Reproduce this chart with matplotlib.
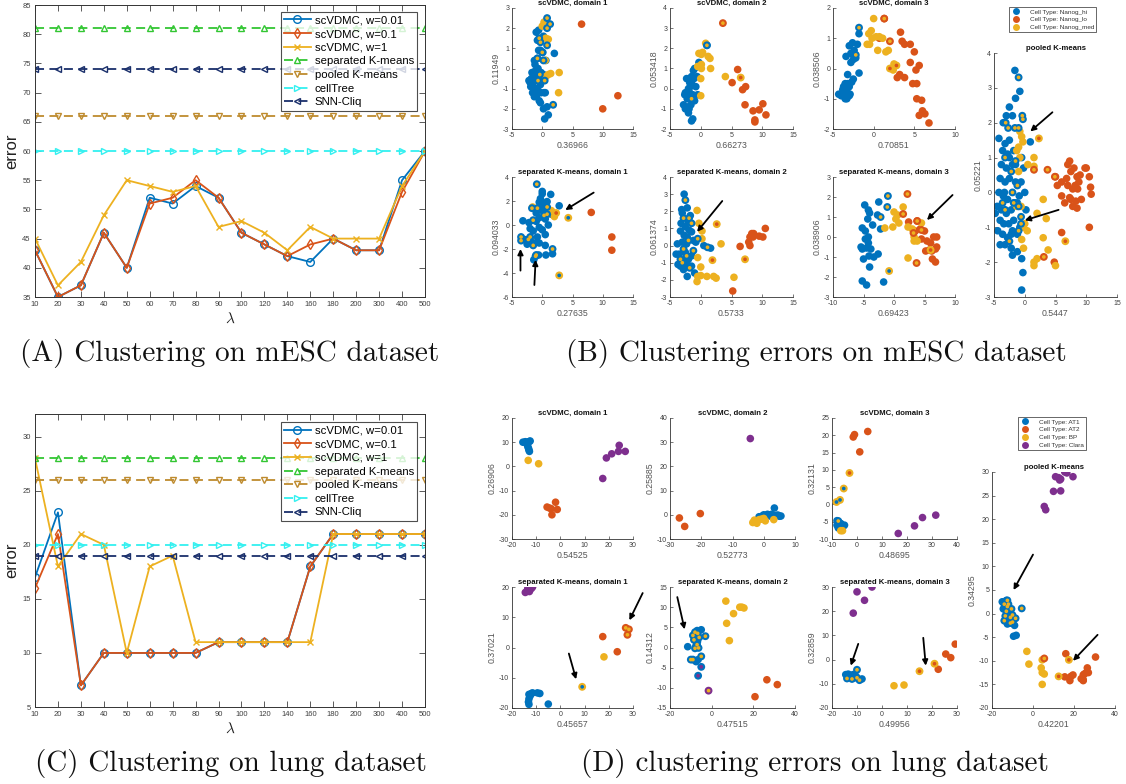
import numpy as np
import matplotlib
matplotlib.use("Agg")
import matplotlib.pyplot as plt
from matplotlib.lines import Line2D

plt.rcParams['font.family'] = ['Liberation Sans', 'DejaVu Sans']
plt.rcParams['axes.unicode_minus'] = False
plt.rcParams['mathtext.fontset'] = 'cm'

W, H = 1126, 784

# ---------------- line-chart data ----------------
lambdas = ['10', '20', '30', '40', '50', '60', '70', '80', '90', '100', '120', '140',
           '160', '180', '200', '300', '400', '500']

a_w001 = [43, 35, 37, 46, 40, 52, 51, 54, 52, 46, 44, 42, 41, 45, 43, 43, 55, 60]
a_w01 = [43, 35, 37, 46, 40, 51, 52, 55, 52, 46, 44, 42, 44, 45, 43, 43, 53, 60]
a_w1 = [45, 37, 41, 49, 55, 54, 53, 54, 47, 48, 46, 43, 47, 45, 45, 45, 54, 60]
a_sep, a_pool, a_tree, a_snn = 81, 66, 60, 74

c_w001 = [17, 23, 7, 10, 10, 10, 10, 10, 11, 11, 11, 11, 18, 21, 21, 21, 21, 21]
c_w01 = [16, 21, 7, 10, 10, 10, 10, 10, 11, 11, 11, 11, 18, 21, 21, 21, 21, 21]
c_w1 = [28, 18, 21, 20, 10, 18, 19, 11, 11, 11, 11, 11, 11, 21, 21, 21, 21, 21]
c_sep, c_pool, c_tree, c_snn = 28, 26, 20, 19

series_labels = ['scVDMC, w=0.01', 'scVDMC, w=0.1', 'scVDMC, w=1',
                 'separated K-means', 'pooled K-means', 'cellTree', 'SNN-Cliq']

# ---------------- scatter data: mESC (B) ----------------
b_types = ['Cell Type: Nanog_hi', 'Cell Type: Nanog_lo', 'Cell Type: Nanog_med']

b1_hi = [(-2, -0.7), (-1.8, -0.5), (-1.5, -0.9), (-1.2, -0.3), (-1, -0.6), (-0.8, -1.0), (-0.5, -0.4),
         (-0.3, -0.8), (0, -0.5), (-1.6, -1.2), (-1.3, -1.4), (-0.9, -1.3), (-0.5, -1.6), (-0.2, -1.2),
         (0.3, -1.2), (-1.9, -0.9), (-1.1, -0.1), (-0.7, 0), (-0.2, -0.2), (0.2, -0.3), (-1.3, 0.4),
         (-0.8, 0.5), (-0.3, 0.9), (0.1, 0.8), (-1, 1.8), (-0.6, 1.9), (-0.3, 1.4), (0.2, 1.6),
         (0.4, 2.3), (-0.8, 1.4), (0.6, 0.4), (2, 0.75), (-1.2, 0.2), (-0.3, -1.7), (0.2, -2.0),
         (0.4, -2.5), (1.0, -2.3), (0.8, -1.9), (0.5, -1.2), (-2.2, -0.6), (-1.7, -0.2), (-0.6, 0.9)]
b1_lo = [(6.5, 2.2), (12.5, -1.35), (10, -2)]
b1_med = [(0, 2.1), (0.3, 2.3), (0.6, 1.5), (1.0, 1.45), (2.8, -0.2), (2.7, -1.2), (1.4, -0.25),
          (0.6, -0.4), (1, -0.3), (0.5, 0.4)]
b1_mix = [(0.8, 2.5, 0, 2), (1.3, 2.2, 0, 2), (0.8, 2.0, 0, 2), (-0.5, 1.5, 0, 2), (-0.3, 1.3, 0, 2),
          (0, 0.8, 0, 2), (0.8, 1.15, 0, 2), (1.8, -1.8, 0, 2), (-0.7, -0.6, 0, 2), (-0.4, -0.3, 0, 2),
          (0.4, -0.6, 0, 2), (-0.8, 0.5, 0, 2), (0.2, 0.4, 0, 2)]

b2_hi = [(-2.5, -1.0), (-2.8, -0.8), (-2.2, -0.5), (-2.5, -0.2), (-2, 0), (-1.8, 0.3), (-1.5, 0.6),
         (-1.2, 0.9), (-1, 1.0), (-2.3, 0.5), (-2, -1.2), (-1.6, -0.8), (-1.3, -0.3), (-1, -0.6),
         (-0.8, 0.1), (-0.5, -0.3), (-1.5, -1.6), (-1.3, -1.5), (-2.6, -0.3), (-1.8, -0.2), (-1.1, 0.5),
         (-0.6, 0.6), (-0.3, 1.3), (1, 2.15), (-2.0, -0.9), (-1.7, 0.1), (-1.9, -1.0), (-1.4, 0.2)]
b2_lo = [(6, 0.95), (5.1, 0.3), (6.8, -0.05), (7.3, 0.1), (7.2, -0.8), (8.5, -1.1), (9.5, -1.05),
         (10.1, -0.75), (10.6, -1.3), (8.8, -1.55), (8.8, -1.65)]
b2_med = [(0.8, 2.25), (-0.3, 1.75), (0.1, 1.7), (0.3, 1.8), (1.2, 1.6), (1.5, 1.5), (1.6, 1.0),
          (0.1, 1.0), (0.1, 1.2), (-0.5, 1.1), (0, 0.5), (0, -0.35), (4, 0.6)]
b2_mix = [(3.6, 3.25, 1, 2), (6.5, 0.55, 2, 1), (-1.5, -0.5, 0, 2), (1, 2.15, 0, 2)]

b3_hi = [(-1.8, 1.15), (-2.6, 0.85), (-3.0, 0.75), (-2.4, 0.6), (-2.8, 0.5), (-3.4, 0.4), (-2.5, 0.3),
         (-2.8, 0.2), (-2, 0.8), (-2.2, 0.35), (-1.8, -0.15), (-3.2, -0.2), (-2.5, -0.35), (-3.5, -0.5),
         (-3.8, -0.7), (-3.3, -0.7), (-4, -0.9), (-3.5, -1), (-3.0, -0.9), (-4.3, -0.85), (-3.2, -0.5),
         (-3.7, -0.6), (-3.0, -0.6), (-2.7, -0.45), (-3.6, -0.8), (-2.9, -0.85), (-3.3, -1.0)]
b3_lo = [(1.3, 1.65), (0.7, 1.0), (3.3, 1.2), (3.5, 0.9), (3.8, 0.8), (4.5, 0.8), (3.2, -0.2),
         (2.9, -0.3), (3.8, -0.3), (4.5, 0.2), (5.0, 0.55), (5.2, -0.05), (4.8, -0.5), (5.3, -0.5),
         (5.3, -1.0), (5.9, -1.05), (6.0, -1.4), (6.3, -1.5), (5.6, -1.55), (6.8, -1.8), (5.6, 0.1)]
b3_med = [(0, 1.65), (-0.3, 1.25), (-0.6, 1.15), (-0.5, 0.8), (-0.8, 0.8), (-0.2, 1.0), (0.3, 1.05),
          (0.7, 1.05), (1.1, 1.0), (0.5, 0.6), (1.5, 0.55), (1.8, 0.6), (2.5, 0.15), (2.4, -0.05)]
b3_mix = [(-1.8, 1.35, 0, 2), (-2.2, 0.45, 0, 2), (2.0, 0.9, 1, 2), (2.0, 0.0, 2, 1), (1.3, 1.65, 1, 2),
          (2.8, 0.1, 2, 1)]

b4_hi = [(0, 2.8), (0, 2.6), (1.4, 2.55), (0.8, 1.95), (-0.5, 1.9), (0.2, 1.5), (-1, 1.0), (0, 1.2),
         (2.8, 1.6), (1, 1.3), (1.5, 0.9), (-0.5, 0.6), (0.5, 0.5), (-3.2, 0.35), (-2, -0.3), (-1.5, -0.5),
         (-0.5, -0.2), (0, -0.4), (0.5, -0.8), (-0.8, -1.0), (-3.0, -1.2), (-2.0, -1.2), (-2.5, -1.6),
         (-1.2, -1.5), (0.5, -1.7), (-0.5, -1.5), (-1.4, -2.9), (0.6, -2.5), (-0.6, -2.5), (1.7, -2.4),
         (1.0, 0.0), (-1.0, 0.3), (-2.2, 0.2), (0.3, 1.8), (-0.3, 2.2)]
b4_lo = [(8.1, 1.05), (11.5, -1.0), (11.5, -2.1)]
b4_med = [(2.0, 0.7), (-1.6, 1.5), (1.5, 1.2)]
b4_mix = [(-0.9, 3.4, 0, 2), (-1.7, 1.4, 0, 2), (-0.8, 1.4, 0, 2), (0.8, 1.5, 0, 2), (-1.5, 0.4, 0, 2),
          (-3.5, -1.0, 0, 2), (-3.5, -1.3, 0, 2), (-2.3, -1.2, 0, 2), (-2.0, -1.0, 0, 2),
          (-1.5, -1.7, 0, 2), (-1.0, -2.5, 0, 2), (1.7, -2.0, 0, 2), (0.3, 0.8, 0, 2), (0.8, 0.9, 0, 2),
          (4.3, 0.6, 2, 0), (2.8, -4.2, 2, 0), (-1.1, -2.6, 0, 2), (2.3, 1.0, 2, 1)]
b4_arrows = [(8.5, 2.7, 3.8, 1.25), (-3.6, -3.8, -3.6, -2.0), (-1.3, -5.0, -1.1, -2.9)]

b5_hi = [(-2.7, 3.0), (-3.1, 2.1), (-3, 1.9), (-2.2, 2.2), (-1.7, 1.75), (-3.2, 1.3), (-2, 1.4),
         (-2.5, 1.1), (-3.3, 0.85), (-1.5, 0.8), (-2.7, 0.6), (-2.2, 0.5), (-3.8, 0.1), (-3.0, 0.2),
         (-2.3, 0.1), (-1.2, 0.3), (-0.8, 0.2), (0.5, 0.0), (1.6, -0.15), (-3.5, -0.5), (-2.5, -0.4),
         (-2, -0.8), (-1.5, -0.6), (-3.3, -1.2), (-2.8, -1.4), (-2.2, -1.1), (-1.5, -1.2), (-1, -1.6),
         (-2.2, -1.8), (-3.7, -1.1), (-2.6, -0.95), (-4, -0.5), (-1.9, 0.9)]
b5_lo = [(10.5, 1.0), (8.3, 0.7), (8, 0.5), (7.8, 0.2), (8.5, 0.5), (9.5, 0.55), (10.1, 0.5),
         (8.0, 0.0), (6.4, -0.05), (8.6, 0.7), (5.2, -2.65)]
b5_med = [(-0.6, 2.05), (-0.3, 1.3), (0.2, 0.85), (0.2, 0.4), (-0.5, -0.7), (0, -1.25), (0, -1.75),
          (-0.5, -1.8), (-0.6, -2.1), (1.0, -1.8), (2.1, -1.8), (2.5, -1.9), (5.4, -1.85), (3.3, 0.1)]
b5_mix = [(-2.5, 2.65, 0, 2), (-1.9, 1.6, 0, 2), (-2.8, 1.6, 0, 2), (-1.5, 1.3, 0, 2), (-2.0, 0.3, 0, 2),
          (-2.8, -0.2, 0, 2), (-2.3, -0.6, 0, 2), (-1.8, -1.3, 0, 2), (-3.0, -1.0, 0, 2),
          (-3.3, -0.8, 0, 2), (-0.5, 0.4, 0, 2), (-1.2, -0.3, 0, 2), (1.1, -0.1, 0, 2),
          (2.6, 1.25, 2, 1), (1.9, -0.85, 2, 1), (7.2, -0.8, 2, 1)]
b5_arrows = [(3.5, 2.6, -0.6, 0.8)]

b6_hi = [(-4.8, 1.6), (-4.2, 1.35), (-4, 1.2), (-2.5, 1.75), (-4.3, 0.9), (-2.7, 1.1), (-3.5, 0.6),
         (-5.2, 0.45), (-4.7, 0.3), (-4.2, 0.0), (-4.7, -0.1), (-5.4, -0.5), (-5.2, -0.6), (-4.5, -0.55),
         (-3.8, -0.6), (-4.2, -0.3), (-5, -1.1), (-4.1, -0.95), (-3.3, -1.0), (-2.6, -0.85), (-4, -1.5),
         (-5.2, -2.2), (-4.5, -2.4), (-1.7, -2.25), (-2.2, 0.4)]
b6_lo = [(2.4, 0.75), (3.8, 0.8), (3.5, 0.3), (4.3, 0.4), (5, 0.3), (5.4, -0.2), (6, -0.3), (6.5, 0.0),
         (7, 0.0), (6.8, -0.6), (6.2, -0.7), (5.8, -0.65), (6.3, -1.1), (6.8, -1.25), (5.2, -0.7),
         (4.5, -0.1), (7.0, -0.5)]
b6_med = [(0, 1.25), (0.6, 1.1), (1.5, 1.5), (-0.2, 0.5), (-1.5, 0.45), (0.3, 0.9), (0.8, 0.7),
          (2.3, 0.5), (3, 0.4), (3.3, 0), (3.8, -0.2), (3.3, -0.2), (2.3, -1.05), (4.5, 0.7)]
b6_mix = [(-1.0, 2.05, 0, 2), (-1.1, 1.5, 0, 2), (-2.2, 1.0, 0, 2), (-0.8, -1.7, 2, 0),
          (2.2, 2.15, 1, 2), (1.5, 1.15, 1, 2), (3.8, 0.8, 1, 2), (4.5, 0.35, 1, 2), (3.7, -1.3, 1, 2),
          (6.0, -0.65, 2, 1), (3.2, 0.2, 1, 2)]
b6_arrows = [(9.6, 2.1, 5.4, 0.85)]

b7_hi = [(-1.6, 3.5), (-0.8, 2.9), (-1.5, 2.7), (-2.5, 2.45), (-3.0, 2.2), (-2.0, 2.2), (-3.5, 2.0),
         (-4.2, 1.55), (-3.2, 1.4), (-2.5, 1.5), (-3.6, 1.2), (-2.8, 1.1), (-1.8, 1.2), (-0.5, 1.0),
         (0.9, 1.45), (-3.8, 0.8), (-3.0, 0.7), (-1.5, 0.8), (-0.2, 0.7), (-4.0, 0.4), (-3.2, 0.3),
         (-2.5, 0.4), (-1.5, 0.3), (0, 0.0), (-4.2, 0.0), (-3.5, -0.1), (-2.8, -0.2), (-1.2, -0.3),
         (-4.5, -0.4), (-3.8, -0.5), (-3.0, -0.6), (-2.2, -0.5), (0.2, -0.5), (-4.8, -0.6), (-4.0, -0.8),
         (-3.4, -0.9), (-2.6, -0.9), (-1.8, -0.8), (-4.4, -1.1), (-3.6, -1.2), (-2.8, -1.3), (-2, -1.1),
         (-1.2, -1.2), (-4.0, -1.5), (-3.2, -1.5), (-2.2, -1.6), (-1.2, -1.7), (-2.0, -1.8),
         (-0.5, -1.9), (-0.3, -2.3), (-0.5, -2.8), (-2.5, 1.0), (-0.8, -1.0), (-0.6, 0.3), (-5.0, -0.6),
         (-3.3, 0.0), (-2.2, -1.2), (-1.6, -0.3), (-0.9, -0.1), (-2.0, 0.8)]
b7_lo = [(5, 0.45), (6, 0.3), (5.3, 0.2), (6.5, -0.3), (7, 0.8), (7.3, 0.9), (7.5, 0.6), (8, 0.7),
         (8.5, 0.45), (8.2, 0.2), (8.8, 0.3), (9, 0.5), (9.8, 0.7), (10, 0.7), (10.5, 0.45), (10.7, 0.15),
         (10.8, -0.05), (9.2, -0.2), (7.5, -0.2), (7.8, -0.4), (8.3, -0.25), (8.6, 0.1), (7.0, 0.2),
         (6.8, 0.4), (7.3, -0.15), (6.0, -0.1), (6, -1.15), (4.8, -2), (10.5, -1), (8.5, -0.45), (7.8, 0.1)]
b7_med = [(-0.8, 1.75), (-0.5, 1.6), (-0.3, 1.45), (-1.0, 1.3), (-1.3, 1.2), (-0.8, 1.0), (-1.0, 0.6),
          (0.5, 0.8), (1.5, 1.0), (1.5, 0.75), (-0.6, -0.4), (-1.3, -0.4), (0, -0.9), (-0.3, -1.0),
          (0.4, -1.1), (2.0, -0.6), (3.0, -0.2), (3.5, -0.75), (3, -1.3), (3.8, -1.65), (1.5, -2.0),
          (1.5, -2.1), (2.0, -1.9), (5, -2.1), (-0.5, -1.35), (-0.2, -1.6)]
b7_mix = [(-1.0, 3.3, 0, 2), (-3.1, 2.0, 0, 2), (-0.4, 2.2, 0, 2), (-0.3, 2.1, 0, 2), (-1.6, 1.85, 0, 2),
          (-1.0, 1.85, 0, 2), (-2.7, 1.85, 0, 2), (-3.2, 1.0, 0, 2), (-2.2, 0.6, 0, 2), (-2.0, 0.0, 0, 2),
          (-1.0, -0.4, 0, 2), (-0.6, -0.7, 0, 2), (-2.5, -1.4, 0, 2), (-1.0, -1.1, 0, 2),
          (-1.8, -0.3, 0, 2), (-3.2, -0.5, 0, 2), (-1.5, 0.9, 0, 2), (-0.6, -0.9, 0, 2),
          (-3.6, -0.3, 0, 2), (-1.2, 0.2, 0, 2), (2.3, 1.55, 2, 1), (1.5, 0.65, 1, 2),
          (6.6, -1.4, 2, 1), (3.1, -1.85, 1, 2), (4.9, 0.45, 1, 2), (3.7, 0.65, 1, 2)]
b7_arrows = [(4.5, 2.3, 0.9, 1.75), (5.5, -0.5, 0.0, -0.8)]

# ---------------- scatter data: lung (D) ----------------
d_types = ['Cell Type: AT1', 'Cell Type: AT2', 'Cell Type: BP', 'Cell Type: Clara']

d1_at1 = [(-15.5, 10), (-14.5, 10.2), (-13.5, 10), (-12.5, 10.5), (-13.8, 9.2), (-13.5, 8.3),
          (-13.2, 7.5), (-13, 6.8), (-12.8, 6.2), (-14, 9.8), (-12.8, 10.3)]
d1_at2 = [(-5.5, -16.8), (-4.5, -17.2), (-3.8, -17.5), (-2, -14.8), (-1.3, -17.8), (-3.5, -20)]
d1_bp = [(-13.3, 2.5), (-9, 1.1)]
d1_clara = [(17.5, -5), (19, 3.5), (21.2, 5.2), (24, 6.2), (24.3, 8.7), (26.8, 6.2)]

d2_at1 = [(-1.5, -0.8), (0, 0), (1, -0.3), (1.5, 0), (2, -0.5), (3, -0.2), (3.4, 2.8), (4, -0.3),
          (4.5, -0.1), (5, -0.6), (5.5, -0.5), (-0.5, -0.5), (2.5, 0.2), (1.2, 0.2)]
d2_at2 = [(-27, -1.3), (-25.3, -4.8), (-20.3, 0.5)]
d2_bp = [(-3.5, -3.2), (-2.8, -2.8), (-2.2, -3.5), (-1.5, -2.0), (-0.8, -1.8), (0.5, -2.5),
         (3.2, -2.0), (-3, -2.2), (0, -1.5)]
d2_clara = [(-4.3, 31.5)]

d3_at1 = [(-8, -4.7), (-7.5, -5), (-8, -6), (-7, -6.3), (-6.5, -5.5), (-5, -6), (-6, -6.5),
          (-7.5, -6.8), (-6, -7.2), (-7, -5.8), (-5.5, -6.3), (-6.2, -5.8)]
d3_at2 = [(-1.5, 19.5), (-1, 20.2), (4.3, 21.1), (1.1, 15.2)]
d3_bp = [(-6.5, -7.6), (-5.8, -7.6)]
d3_clara = [(16.5, -8.4), (23, -6.2), (26.2, -3.8), (31.5, -3.1)]
d3_mix = [(-3, 9.1, 2, 1), (-5.3, 4.6, 2, 0), (-8.2, 0.7, 2, 0), (-6.8, 1.3, 2, 0), (-7.5, -4.8, 0, 2)]

d4_at1 = [(-13, -15.5), (-12, -15.2), (-11.5, -15.0), (-9.5, -15), (-8.5, -15.2), (-13, -17),
          (-13.2, -18), (-13, -18.8), (-5, -18.7), (-12.5, -16)]
d4_at2 = [(17.5, 3.6), (23.5, -1.4)]
d4_bp = [(18, -3.1)]
d4_clara = [(-14.5, 18.2), (-13.5, 18.8), (-13, 19.2), (-12, 19.5), (-11.5, 20), (-12.8, 18.5),
            (-13.5, 19.5)]
d4_mix = [(9, -13, 2, 0), (27, 6.5, 1, 2), (28.3, 6.0, 1, 2), (27.7, 4.2, 1, 2)]
d4_arrows = [(3.5, -2, 6.5, -10.5), (34, 18, 28.5, 9)]

d5_at1 = [(-11.5, 0.2), (-7, 4.2), (-5, 4.4), (-7.5, 0.5), (-6.8, 1.5), (-6.5, -3.0), (-7.5, -3.5)]
d5_at2 = [(26.5, -8), (31.5, -9.2), (20.8, -12.2)]
d5_bp = [(6.8, 11.5), (7.2, 6), (8.5, 1.7), (10.5, 8.4), (13.5, 10), (14.5, 10), (15.5, 9.8)]
d5_clara = []
d5_mix = [(-9, 3, 0, 2), (-8, 3.8, 0, 2), (-6.7, 3.5, 0, 2), (-6, 2.5, 0, 2), (-3, 2.8, 0, 2),
          (-8, -0.2, 0, 2), (-6.3, -0.1, 0, 2), (-7, 0.7, 0, 2), (-8.5, 1.9, 0, 2), (-9, -3, 0, 2),
          (-5, -2.2, 0, 2), (-10, -3.0, 0, 2), (-5, -4.8, 0, 3), (-6.5, -7, 0, 3), (-1.5, -10.7, 3, 2)]
d5_arrows = [(-16.5, 12.5, -13, 4.5)]

d6_at1 = [(-14.5, -6.2), (-13.5, -6), (-12.5, -6.5), (-11.5, -6.2), (-10.5, -6.8), (-8, -8),
          (-11, -7.5), (-13, -7.2)]
d6_at2 = [(22.5, -4), (25.5, 2.3), (27.5, 0.8), (29.3, 6.4)]
d6_bp = [(4.8, -10.8), (8.8, -10.5)]
d6_clara = [(-10, 28), (-4, 30), (-7, 24.5), (-11.5, 19.2)]
d6_mix = [(15, -4.8, 2, 1), (21, -1.7, 2, 1), (-14, -7.8, 0, 2), (-12, -8, 0, 2), (-10, -7.5, 0, 2),
          (-9, -8.5, 0, 2), (-10, -4.2, 0, 2)]
d6_arrows = [(-9.5, 6.5, -12.5, -2.5), (16.5, 9, 17.5, -2.5)]

d7_at1 = [(-15, 2.5), (-13, 2.8), (-14.5, 1), (-11.5, 0.2), (-12, -1.2), (-12.5, -2.2), (-9, -2.5),
          (-9.5, -4.8), (-8.2, -4.6)]
d7_at2 = [(16, -8.5), (15.5, -13.4), (18, -14.2), (18.5, -13.3), (19.5, -13), (23.5, -13.8),
          (24.5, -14), (24.5, -13), (25, -12.8), (26, -12.5), (26.5, -11.5), (27, -12.5),
          (30.5, -9.2), (24.5, -14.2)]
d7_bp = [(-3, -8), (-2, -10.7), (4, -11.5), (4.5, -12.5), (5.5, -12.8), (4.5, -15), (4.5, -9.8)]
d7_clara = [(10, 25.9), (11, 29), (12.5, 28.8), (13.5, 28.5), (13.5, 26), (15.5, 30), (16.5, 29.8),
            (19.5, 29), (5.5, 22.7), (6.2, 22), (13, 28.3)]
d7_mix = [(-14, 2, 0, 2), (-12.5, 1.5, 0, 2), (-13, 0.5, 0, 2), (-10, -0.3, 0, 2), (-11, -0.8, 0, 2),
          (-13.5, -0.5, 0, 2), (-14, -1.5, 0, 2), (-10, -1.8, 0, 2), (-8.5, -1, 0, 2),
          (-5.5, 1.1, 0, 2), (-11, -2.0, 0, 2), (-12, 2.0, 0, 2), (-10.5, 1.0, 0, 2),
          (-12.5, 2.8, 0, 2), (12.5, -13.3, 2, 1), (17.5, -9.8, 2, 1), (5.5, -9.5, 1, 2)]
d7_arrows = [(0, 12.5, -9.5, 5), (31.5, -4.5, 19.5, -10)]

# ---------------- style ----------------
C_BLUE, C_ORANGE, C_YELLOW, C_PURPLE = '#0072BD', '#D95319', '#EDB120', '#7E2F8E'
C_GREEN, C_BROWN, C_CYAN, C_NAVY = '#33C633', '#BE8B2E', '#33F0F0', '#1A2F6B'
cls_colors = [C_BLUE, C_ORANGE, C_YELLOW, C_PURPLE]
TICKC = '#404040'

fig = plt.figure(figsize=(W / 100, H / 100), dpi=100)


def px_axes(l, t, r, b):
    return fig.add_axes([l / W, 1 - b / H, (r - l) / W, (b - t) / H])


def line_panel(rect, w001, w01, w1, sep, pool, tree, snn, ylim, yticks, leg_anchor):
    ax = px_axes(*rect)
    x = np.arange(1, len(lambdas) + 1)
    ax.plot(x, w001, '-', color=C_BLUE, marker='o', ms=5.5, mfc='none', mew=1.0, lw=1.3)
    ax.plot(x, w01, '-', color=C_ORANGE, marker='d', ms=5.5, mfc='none', mew=1.0, lw=1.3)
    ax.plot(x, w1, '-', color=C_YELLOW, marker='x', ms=4, mew=1.0, lw=1.3)
    dash = (0, (5, 3))
    ax.plot(x, [sep] * len(x), linestyle=dash, color=C_GREEN, marker='^', ms=5, mfc='none', mew=1.0, lw=1.3)
    ax.plot(x, [pool] * len(x), linestyle=dash, color=C_BROWN, marker='v', ms=5, mfc='none', mew=1.0, lw=1.3)
    ax.plot(x, [tree] * len(x), linestyle=dash, color=C_CYAN, marker='>', ms=5, mfc='none', mew=1.0, lw=1.3)
    ax.plot(x, [snn] * len(x), linestyle=dash, color=C_NAVY, marker='<', ms=5, mfc='none', mew=1.0, lw=1.3)
    ax.set_xlim(1, len(lambdas))
    ax.set_ylim(*ylim)
    ax.set_xticks(x)
    ax.set_xticklabels(lambdas)
    ax.set_yticks(yticks)
    ax.tick_params(direction='in', top=True, right=True, labelsize=5.5, colors=TICKC,
                   length=4, width=0.6, pad=3)
    for s in ax.spines.values():
        s.set_color('#333333')
        s.set_linewidth(0.7)
    ax.set_ylabel('error', fontsize=12, color='#222222', labelpad=2)
    ax.set_xlabel(r'$\lambda$', fontsize=11, color='#222222', labelpad=2)
    leg = ax.legend(series_labels, loc='upper right', bbox_to_anchor=leg_anchor, fontsize=8.2,
                    frameon=True, fancybox=False, edgecolor='#222222', borderaxespad=0,
                    handlelength=2.3, handletextpad=0.35, labelspacing=0.32, borderpad=0.3,
                    numpoints=1)
    leg.get_frame().set_linewidth(0.8)
    return ax


A_rect = (35, 5, 425, 297)
line_panel(A_rect, a_w001, a_w01, a_w1, a_sep, a_pool, a_tree, a_snn, (35, 85),
           range(35, 86, 5), (0.98, 0.976))
C_rect = (35, 414, 425, 707)
line_panel(C_rect, c_w001, c_w01, c_w1, c_sep, c_pool, c_tree, c_snn, (5, 32.1),
           range(5, 31, 5), (0.98, 0.972))


def scatter_panel(rect, xlim, ylim, xticks, yticks, title, xlabel, ylabel, groups,
                  mixed=(), arrows=()):
    ax = px_axes(*rect)
    for pts, col in groups:
        if len(pts):
            p = np.array(pts)
            ax.scatter(p[:, 0], p[:, 1], s=30, c=col, edgecolors='none', zorder=2)
    for (x, y, ring, center) in mixed:
        ax.scatter([x], [y], s=32, c=cls_colors[ring], edgecolors='none', zorder=3)
        ax.scatter([x], [y], s=7, c=cls_colors[center], edgecolors='none', zorder=4)
    for (x0, y0, x1, y1) in arrows:
        ax.annotate('', xy=(x1, y1), xytext=(x0, y0),
                    arrowprops=dict(arrowstyle='-|>', color='black', lw=1.3,
                                    mutation_scale=8, shrinkA=0, shrinkB=0), zorder=6)
    ax.set_xlim(*xlim)
    ax.set_ylim(*ylim)
    ax.set_xticks(xticks)
    ax.set_yticks(yticks)
    ax.spines['top'].set_visible(False)
    ax.spines['right'].set_visible(False)
    for s in ('left', 'bottom'):
        ax.spines[s].set_color('#333333')
        ax.spines[s].set_linewidth(0.6)
    ax.tick_params(direction='in', labelsize=5, colors=TICKC, length=2.5, width=0.5, pad=2)
    ax.set_title(title, fontsize=5.6, fontweight='bold', color='#111111', pad=2)
    ax.set_xlabel(xlabel, fontsize=6.3, color='#555555', labelpad=1.5)
    ax.set_ylabel(ylabel, fontsize=6.3, color='#555555', labelpad=1.5)
    return ax


def grp(*lists):
    return [(pts, cls_colors[i]) for i, pts in enumerate(lists)]


# Panel B (mESC): classes hi, lo, med
scatter_panel((512, 8, 633, 129), (-5, 15), (-3, 3), range(-5, 16, 5), range(-3, 4),
              'scVDMC, domain 1', '0.36966', '0.11949', grp(b1_hi, b1_lo, b1_med), b1_mix)
scatter_panel((670, 8, 793, 129), (-5, 15), (-2, 4), range(-5, 16, 5), range(-2, 5),
              'scVDMC, domain 2', '0.66273', '0.053418', grp(b2_hi, b2_lo, b2_med), b2_mix)
scatter_panel((833, 8, 955, 129), (-5, 10), (-2, 2), range(-5, 11, 5), range(-2, 3),
              'scVDMC, domain 3', '0.70851', '0.038506', grp(b3_hi, b3_lo, b3_med), b3_mix)
scatter_panel((512, 177, 633, 297), (-5, 15), (-6, 4), range(-5, 16, 5), range(-6, 5, 2),
              'separated K-means, domain 1', '0.27635', '0.094033', grp(b4_hi, b4_lo, b4_med),
              b4_mix, b4_arrows)
scatter_panel((670, 177, 793, 297), (-5, 15), (-3, 4), range(-5, 16, 5), range(-3, 5),
              'separated K-means, domain 2', '0.5733', '0.061374', grp(b5_hi, b5_lo, b5_med),
              b5_mix, b5_arrows)
scatter_panel((833, 177, 955, 297), (-10, 10), (-3, 3), range(-10, 11, 5), range(-3, 4),
              'separated K-means, domain 3', '0.69423', '0.038906', grp(b6_hi, b6_lo, b6_med),
              b6_mix, b6_arrows)
scatter_panel((994, 53, 1117, 297), (-5, 15), (-3, 4), range(-5, 16, 5), range(-3, 5),
              'pooled K-means', '0.5447', '0.05221', grp(b7_hi, b7_lo, b7_med), b7_mix, b7_arrows)

# Panel D (lung): classes AT1, AT2, BP, Clara
scatter_panel((512, 418, 633, 539), (-20, 30), (-30, 20), range(-20, 31, 10), range(-30, 21, 10),
              'scVDMC, domain 1', '0.54525', '0.26906', grp(d1_at1, d1_at2, d1_bp, d1_clara))
scatter_panel((670, 418, 795, 539), (-30, 10), (-10, 40), range(-30, 11, 10), range(-10, 41, 10),
              'scVDMC, domain 2', '0.52773', '0.25885', grp(d2_at1, d2_at2, d2_bp, d2_clara))
scatter_panel((832, 418, 957, 539), (-10, 40), (-10, 25), range(-10, 41, 10), range(-10, 26, 5),
              'scVDMC, domain 3', '0.48695', '0.32131', grp(d3_at1, d3_at2, d3_bp, d3_clara), d3_mix)
scatter_panel((512, 587, 633, 708), (-20, 30), (-20, 20), range(-20, 31, 10), range(-20, 21, 10),
              'separated K-means, domain 1', '0.45657', '0.37021',
              grp(d4_at1, d4_at2, d4_bp, d4_clara), d4_mix, d4_arrows)
scatter_panel((670, 587, 795, 708), (-20, 40), (-15, 15), range(-20, 41, 20), range(-15, 16, 5),
              'separated K-means, domain 2', '0.47515', '0.14312',
              grp(d5_at1, d5_at2, d5_bp, d5_clara), d5_mix, d5_arrows)
scatter_panel((832, 587, 957, 708), (-20, 30), (-20, 30), range(-20, 31, 10), range(-20, 31, 10),
              'separated K-means, domain 3', '0.49956', '0.32859',
              grp(d6_at1, d6_at2, d6_bp, d6_clara), d6_mix, d6_arrows)
scatter_panel((992, 472, 1115, 708), (-20, 40), (-20, 30), range(-20, 41, 20), range(-20, 31, 5),
              'pooled K-means', '0.42201', '0.34295',
              grp(d7_at1, d7_at2, d7_bp, d7_clara), d7_mix, d7_arrows)


def type_legend(labels, anchor):
    handles = [Line2D([], [], linestyle='none', marker='o', ms=5, mfc=cls_colors[i], mec='none')
               for i in range(len(labels))]
    leg = fig.legend(handles, labels, loc='upper left', bbox_to_anchor=anchor, fontsize=4.6,
                     frameon=True, fancybox=False, edgecolor='#222222', borderaxespad=0,
                     handlelength=1.5, handletextpad=1.4, labelspacing=0.35, borderpad=0.35)
    leg.get_frame().set_linewidth(0.6)
    for t in leg.get_texts():
        t.set_color('#333333')


type_legend(b_types, (1009 / W, 1 - 7 / H))
type_legend(d_types, (1018 / W, 1 - 417 / H))

# captions
cap_kw = dict(fontsize=21, family='cmr10', ha='center', va='center', color='#111111')
fig.text(230 / W, 1 - 354 / H, '(A) Clustering on mESC dataset', **cap_kw)
fig.text(816 / W, 1 - 354 / H, '(B) Clustering errors on mESC dataset', **cap_kw)
fig.text(231 / W, 1 - 764 / H, '(C) Clustering on lung dataset', **cap_kw)
fig.text(815 / W, 1 - 764 / H, '(D) clustering errors on lung dataset', **cap_kw)

fig.savefig('out.png', dpi=100)
